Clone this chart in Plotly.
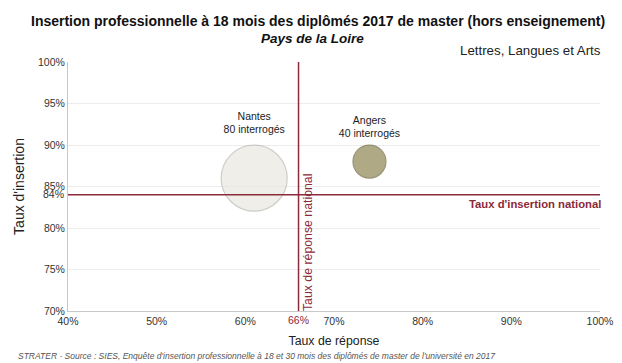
import plotly.graph_objects as go

# data
sites = ["Nantes", "Angers"]
taux_reponse = [0.61, 0.74]
taux_insertion = [0.86, 0.88]
interroges = [80, 40]
national_reponse = 0.66
national_insertion = 0.84

RED = "#8b2a3a"
FONT = "Liberation Sans, Arial, sans-serif"

fig = go.Figure()
fig.add_trace(go.Scatter(
    x=taux_reponse, y=taux_insertion, mode="markers+text",
    text=[f"{s}<br>{n} interrogés" for s, n in zip(sites, interroges)],
    textposition="top center",
    textfont=dict(size=10.5, color="#222"),
    marker=dict(size=interroges, sizemode="diameter", sizeref=80 / 66,
                color=["#e9e7e1", "#8e8552"],
                line=dict(color=["#b9b8b0", "#6e6840"], width=1.2)),
    hoverinfo="skip", showlegend=False,
))

fig.add_shape(type="line", xref="x", yref="y", x0=0.4, x1=1.0,
              y0=national_insertion, y1=national_insertion, line=dict(color=RED, width=1.5))
fig.add_shape(type="line", xref="x", yref="y", x0=national_reponse, x1=national_reponse,
              y0=0.7, y1=1.0, line=dict(color=RED, width=1.5))

fig.add_annotation(x=1.0, y=national_insertion, xref="x", yref="y", text="<b>Taux d'insertion national</b>",
                   showarrow=False, xanchor="right", yanchor="top", yshift=-1, xshift=3,
                   font=dict(size=11.3, color=RED))
fig.add_annotation(x=national_reponse, y=0.7, xref="x", yref="y", text="Taux de réponse national",
                   showarrow=False, textangle=-90, xanchor="left", yanchor="bottom", xshift=0, yshift=-2,
                   font=dict(size=12.3, color=RED))
fig.add_annotation(x=national_reponse, y=0.7, xref="x", yref="y", text=f"{national_reponse:.0%}",
                   showarrow=False, yanchor="top", yshift=-1, font=dict(size=10.5, color=RED))
fig.add_annotation(x=0.4, y=national_insertion, xref="x", yref="y", text=f"{national_insertion:.0%}",
                   showarrow=False, xanchor="right", xshift=-2, yshift=1, font=dict(size=10.5, color="#333"))

fig.add_annotation(x=0.47, y=1.0, xref="paper", yref="paper", yshift=51,
                   text="<b>Insertion professionnelle à 18 mois des diplômés 2017 de master (hors enseignement)</b>",
                   showarrow=False, font=dict(size=14, color="#111"))
fig.add_annotation(x=0.46, y=1.0, xref="paper", yref="paper", yshift=33,
                   text="<b><i>Pays de la Loire</i></b>", showarrow=False, font=dict(size=13.5, color="#111"))
fig.add_annotation(x=1.0, y=1.0, xref="paper", yref="paper", yshift=21, xanchor="right", xshift=3,
                   text="Lettres, Langues et Arts", showarrow=False, font=dict(size=13.3, color="#222"))
fig.add_annotation(x=-0.098, y=0, xref="paper", yref="paper", yshift=-38, xanchor="left", yanchor="top",
                   text="<i>STRATER - Source : SIES, Enquête d'insertion professionnelle à 18 et 30 mois des diplômés de master de l'université en 2017</i>",
                   showarrow=False, font=dict(size=8.5, color="#555"))

fig.update_xaxes(range=[0.4, 1.0], tickformat=".0%", dtick=0.1, showgrid=False, zeroline=False,
                 showline=True, linecolor="#c8c8c8", ticks="", automargin=False,
                 tickfont=dict(size=10.5, color="#333"),
                 title=dict(text="Taux de réponse", font=dict(size=12.3, color="#222"), standoff=10))
fig.update_yaxes(range=[0.7, 1.0], tickformat=".0%", dtick=0.05, showgrid=True, gridcolor="#ececec",
                 zeroline=False, showline=True, linecolor="#c8c8c8", ticks="", automargin=False,
                 tickfont=dict(size=10.5, color="#333"),
                 title=dict(text="Taux d'insertion", font=dict(size=14, color="#222"), standoff=10))

# page body adds 8px margin, so figure is 8px smaller on each axis
fig.update_layout(
    width=614, height=355, plot_bgcolor="white", paper_bgcolor="white",
    font=dict(family=FONT),
    margin=dict(l=60, r=22, t=54, b=52),
)

fig.write_html("out.html")
